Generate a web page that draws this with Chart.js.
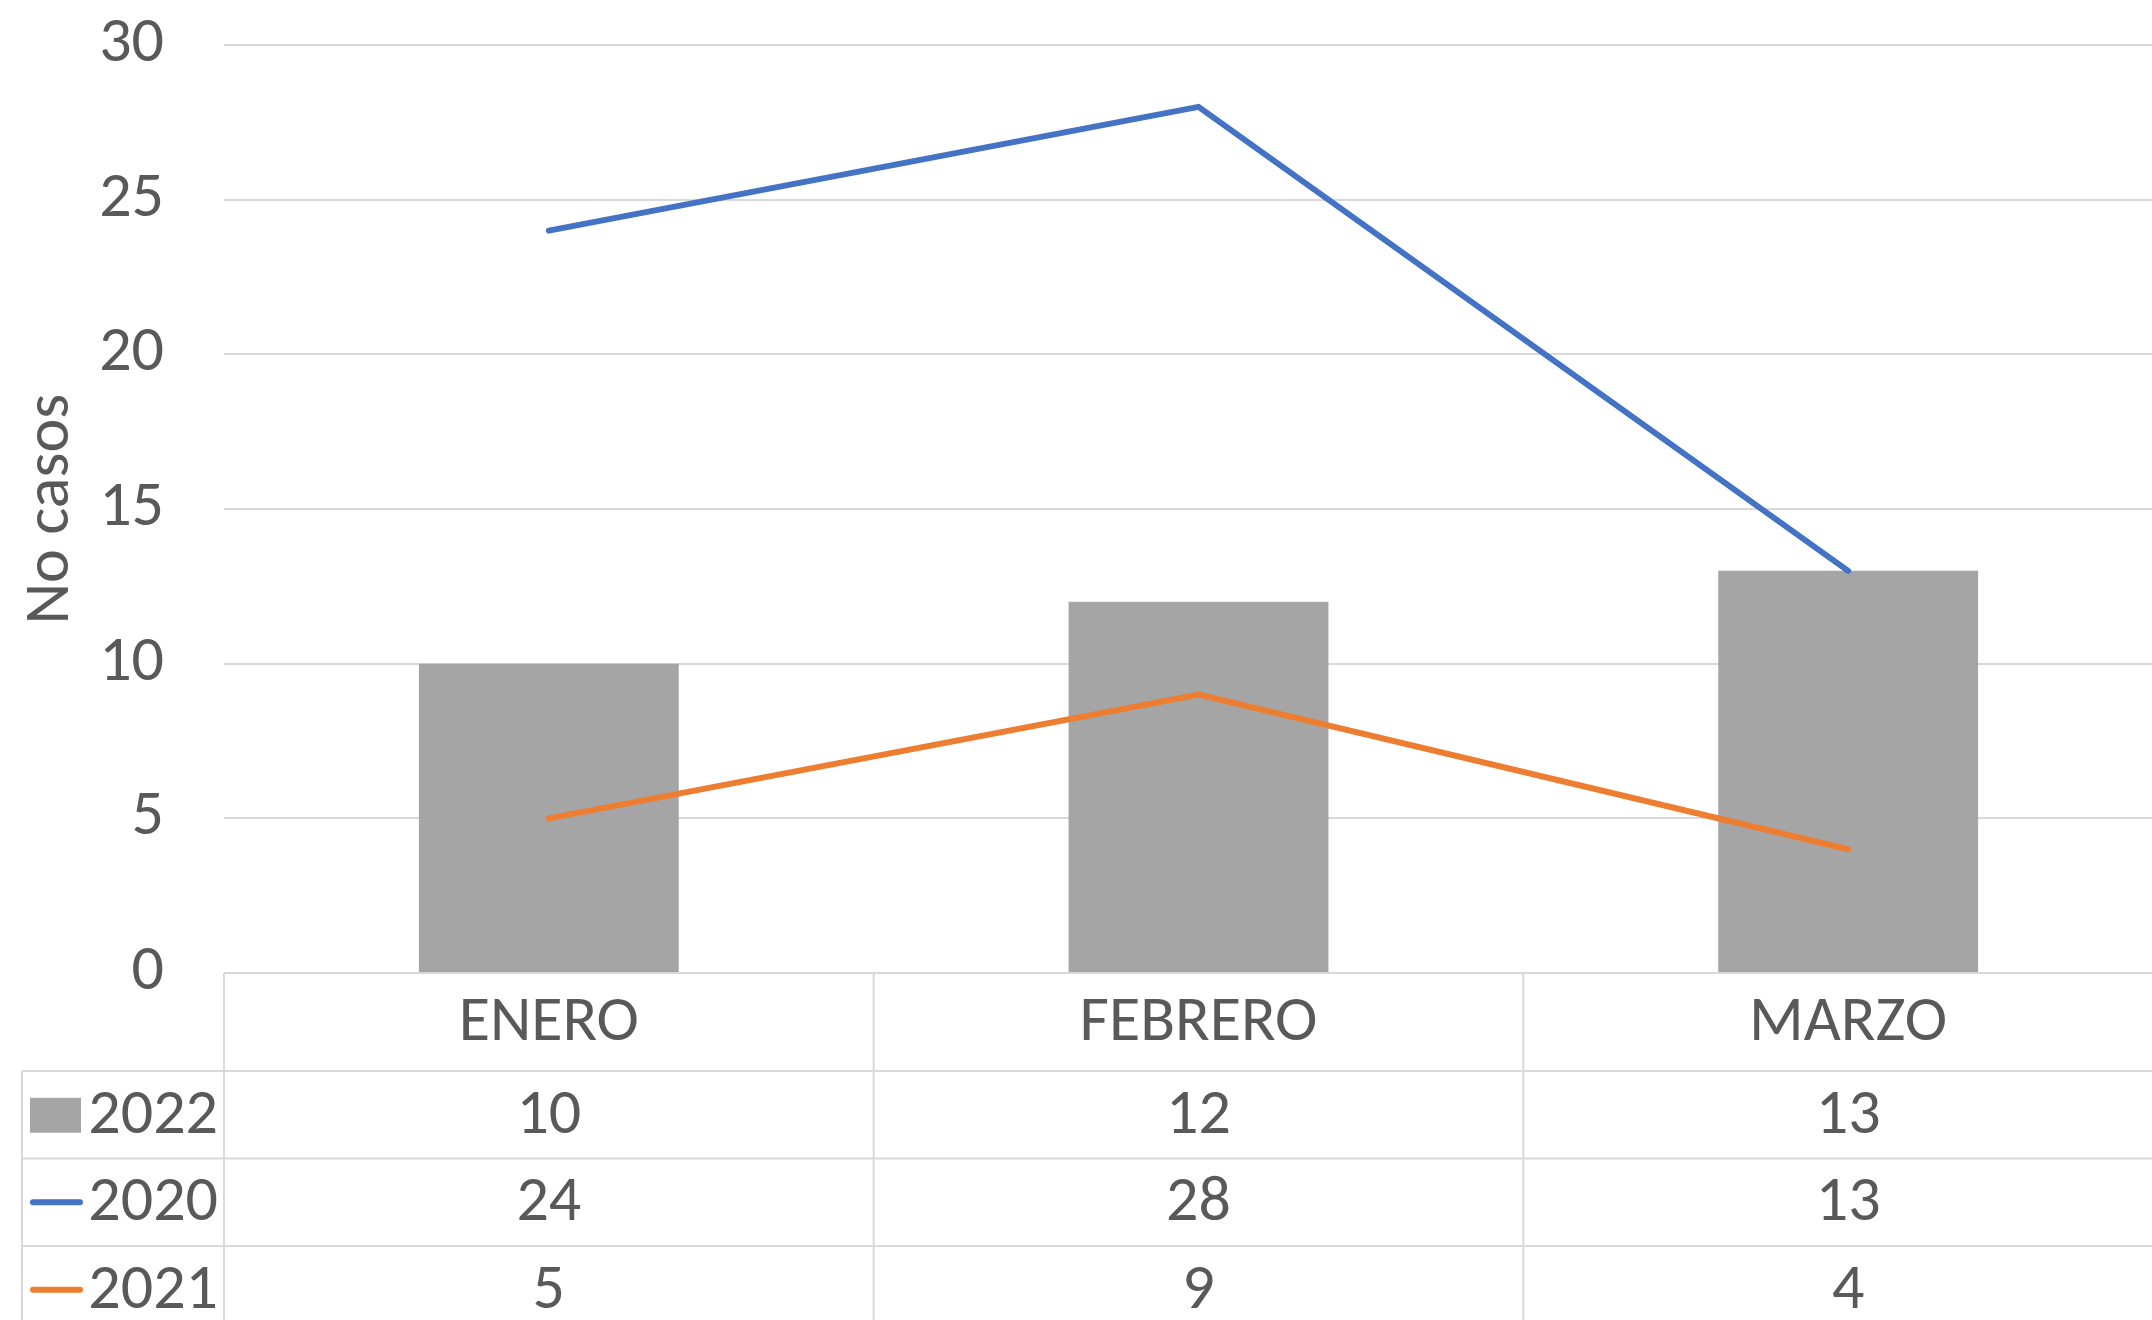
<!DOCTYPE html>
<html>
<head>
<meta charset="utf-8">
<script src="https://cdn.jsdelivr.net/npm/chart.js@4.4.1/dist/chart.umd.min.js"></script>
<style>
    body { margin: 0; background: #fff; overflow: hidden; }
    #chart { display: block; }
</style>
</head>
<body>
<canvas id="chart" width="2173" height="1320"></canvas>
<script>
let months = ['ENERO', 'FEBRERO', 'MARZO']
let casos2022 = [10, 12, 13]
let casos2020 = [24, 28, 13]
let casos2021 = [5, 9, 4]
let yTicks = [0, 5, 10, 15, 20, 25, 30]

const textColor = '#595959'
const gridColor = '#d9d9d9'
const fontFamily = 'Carlito, Lato, sans-serif'
const fontSize = 64

// ============ DATA TABLE UNDER THE PLOT ============
const dataTable = {
    id: 'dataTable',
    afterDraw(chart) {
        const ctx = chart.ctx
        const x = chart.scales.x
        const area = chart.chartArea
        const half = (x.getPixelForValue(1) - x.getPixelForValue(0)) / 2
        const rows = chart.data.datasets
        const catRow = 98
        const rowH = 87.5
        const legendLeft = 22
        const bottom = chart.height + 20

        ctx.save()
        ctx.strokeStyle = gridColor
        ctx.lineWidth = 2

        // horizontal lines
        ctx.beginPath()
        ctx.moveTo(area.left, area.bottom)
        ctx.lineTo(area.right, area.bottom)
        for (let r = 0; r < rows.length; r++) {
            const y = area.bottom + catRow + r * rowH
            ctx.moveTo(legendLeft, y)
            ctx.lineTo(area.right, y)
        }
        // vertical lines
        ctx.moveTo(legendLeft, area.bottom + catRow)
        ctx.lineTo(legendLeft, bottom)
        ctx.moveTo(area.left, area.bottom)
        ctx.lineTo(area.left, bottom)
        for (let i = 0; i < months.length; i++) {
            const xr = x.getPixelForValue(i) + half
            ctx.moveTo(xr, area.bottom)
            ctx.lineTo(xr, bottom)
        }
        ctx.stroke()

        ctx.fillStyle = textColor
        ctx.font = fontSize + 'px ' + fontFamily
        ctx.textAlign = 'center'
        ctx.textBaseline = 'middle'
        for (let i = 0; i < months.length; i++) {
            ctx.fillText(months[i], x.getPixelForValue(i), area.bottom + catRow / 2 + 2)
        }

        for (let r = 0; r < rows.length; r++) {
            const ds = rows[r]
            const yc = area.bottom + catRow + r * rowH + rowH / 2 + 2
            ctx.textAlign = 'center'
            ctx.fillStyle = textColor
            for (let i = 0; i < ds.data.length; i++) {
                ctx.fillText(String(ds.data[i]), x.getPixelForValue(i), yc)
            }
            // legend key
            if (ds.type === 'line') {
                ctx.strokeStyle = ds.borderColor
                ctx.lineWidth = 6
                ctx.lineCap = 'round'
                ctx.beginPath()
                ctx.moveTo(33, yc - 2)
                ctx.lineTo(80, yc - 2)
                ctx.stroke()
            } else {
                ctx.fillStyle = ds.backgroundColor
                ctx.fillRect(30, yc - 19, 51, 35)
            }
            ctx.fillStyle = textColor
            ctx.textAlign = 'right'
            ctx.fillText(ds.label, 218, yc)
        }
        ctx.restore()
    }
}

function createChart(element, labels, datasets, options) {
    const ctx = document.getElementById(element)
    return new Chart(ctx, {
        type: 'bar',
        data: {
            labels: labels,
            datasets: datasets
        },
        options: options,
        plugins: [dataTable]
    })
}

// ============ COMBO CHART ============
let comboChart = createChart(
    'chart',
    months,
    [
        {
            type: 'bar',
            label: '2022',
            data: casos2022,
            backgroundColor: '#a5a5a5',
            categoryPercentage: 1,
            barPercentage: 0.4,
            order: 2
        },
        {
            type: 'line',
            label: '2020',
            data: casos2020,
            borderColor: '#4472c4',
            borderWidth: 6,
            borderCapStyle: 'round',
            pointRadius: 0,
            fill: false,
            order: 1
        },
        {
            type: 'line',
            label: '2021',
            data: casos2021,
            borderColor: '#ed7d31',
            borderWidth: 6,
            borderCapStyle: 'round',
            pointRadius: 0,
            fill: false,
            order: 1
        }
    ],
    {
        responsive: false,
        animation: false,
        layout: {
            padding: { top: 45, bottom: 347, left: 0, right: 0 }
        },
        plugins: {
            legend: { display: false },
            tooltip: { enabled: false }
        },
        scales: {
            x: {
                display: false,
                offset: true
            },
            y: {
                min: 0,
                max: 30,
                afterBuildTicks: (scale) => {
                    scale.ticks = yTicks.map(v => ({ value: v }))
                },
                afterFit: (scale) => {
                    scale.width = 224
                },
                grid: {
                    color: gridColor,
                    lineWidth: 2,
                    drawTicks: true,
                    tickLength: 60,
                    tickColor: 'rgba(0,0,0,0)'
                },
                border: { display: false },
                ticks: {
                    color: textColor,
                    padding: 0,
                    font: { family: fontFamily, size: fontSize }
                },
                title: {
                    display: true,
                    text: 'No casos',
                    color: textColor,
                    padding: { top: 14, bottom: 0 },
                    font: { family: fontFamily, size: fontSize, lineHeight: 1.2 }
                }
            }
        }
    }
)
</script>
</body>
</html>
